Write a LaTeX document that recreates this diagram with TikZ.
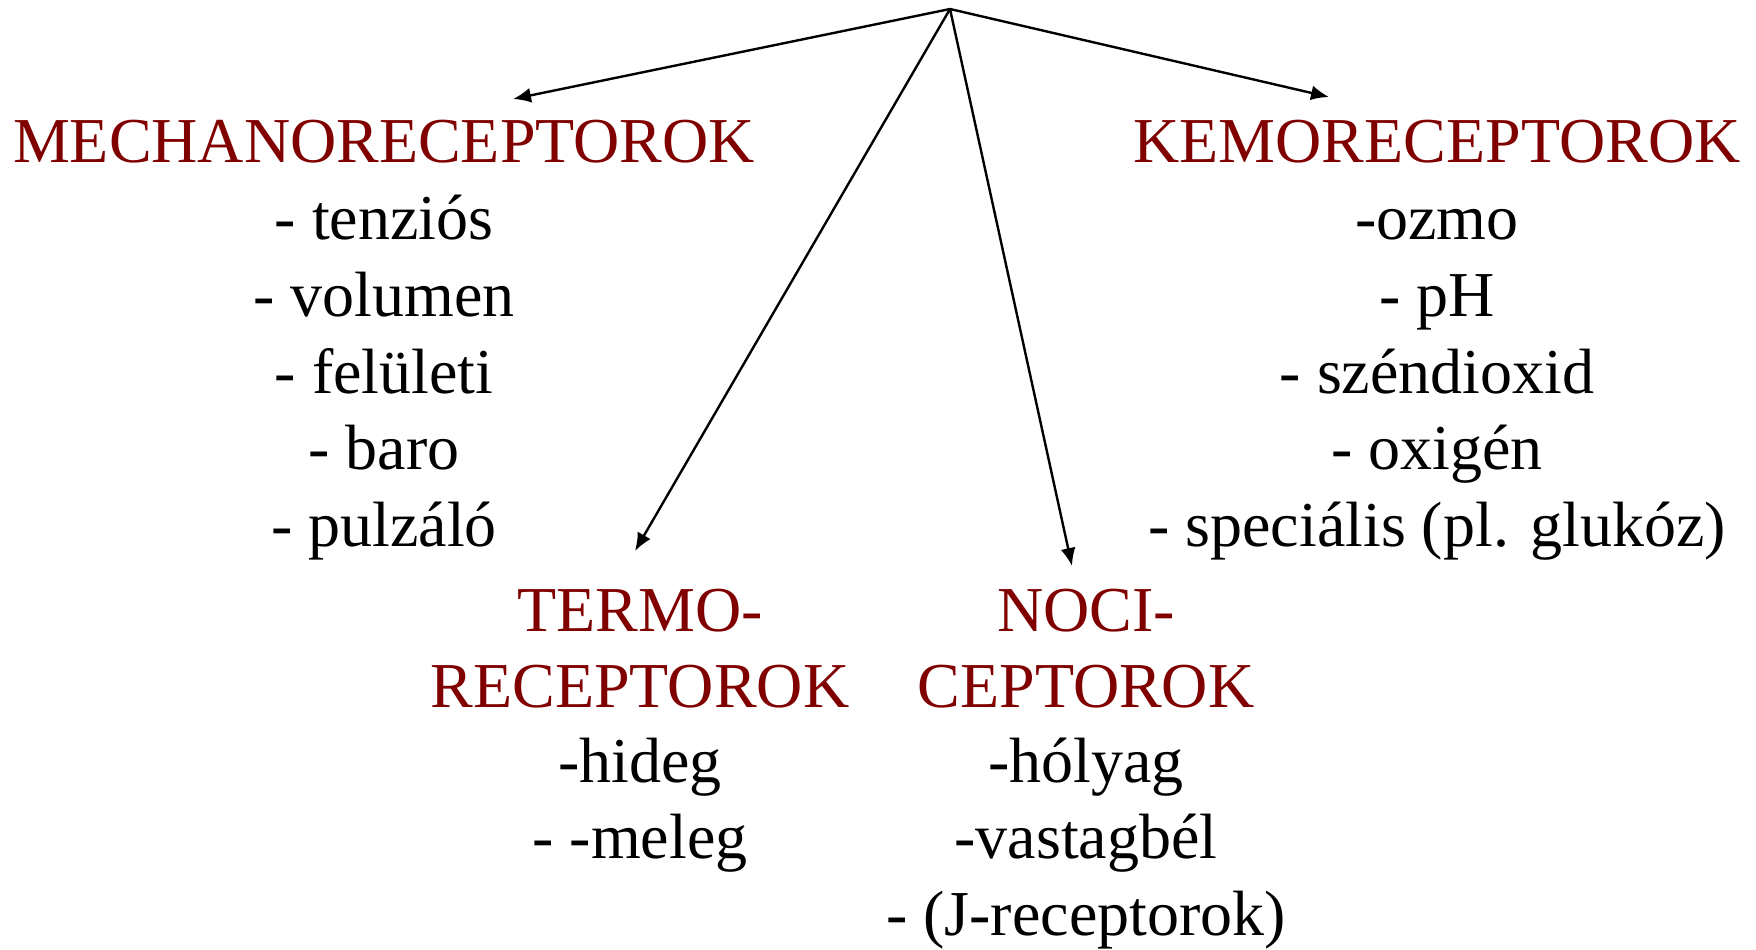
\documentclass[tikz,border=0pt]{standalone}
\usepackage{fontspec}
\setmainfont{Liberation Serif}
\usetikzlibrary{arrows.meta}
\definecolor{headred}{RGB}{128,0,0}
\begin{document}
\begin{tikzpicture}[x=0.5pt,y=-0.5pt,
  txt/.style={anchor=base,inner sep=0pt,font=\fontsize{32}{38}\selectfont},
  head/.style={txt,text=headred},
  item/.style={txt,text=black},
  conn/.style={line width=1.2pt,-{Latex[length=9pt,width=7.5pt]}}]
\useasboundingbox (0,0) rectangle (1756,949);
\coordinate (apex) at (950,9);
\coordinate (tipM) at (513,99);
\coordinate (tipK) at (1329,97);
\coordinate (tipT) at (635,551);
\coordinate (tipN) at (1072,566);
\draw[conn] (apex) -- (tipM);
\draw[conn] (apex) -- (tipK);
\draw[conn] (apex) -- (tipT);
\draw[conn] (apex) -- (tipN);
% Mechano
\node[head] (mh) at (384,162) {MECHANORECEPTOROK};
\node[item] (m1) at (384,239) {- tenziós};
\node[item] (m2) at (384,316) {- volumen};
\node[item] (m3) at (384,393) {- felületi};
\node[item] (m4) at (384,469) {- baro};
\node[item] (m5) at (384,546) {- pulzáló};
% Kemo
\node[head] (kh) at (1437,162) {KEMORECEPTOROK};
\node[item] (k1) at (1437,239) {-ozmo};
\node[item] (k2) at (1437,316) {- pH};
\node[item] (k3) at (1437,393) {- széndioxid};
\node[item] (k4) at (1437,469) {- oxigén};
\node[item] (k5) at (1437,546) {- speciális (pl. glukóz)};
% Termo
\node[head] (th1) at (640,631) {TERMO-};
\node[head] (th2) at (640,707) {RECEPTOROK};
\node[item] (t1) at (640,782) {-hideg};
\node[item] (t2) at (640,858) {- -meleg};
% Noci
\node[head] (nh1) at (1086,631) {NOCI-};
\node[head] (nh2) at (1086,707) {CEPTOROK};
\node[item] (n1) at (1086,782) {-hólyag};
\node[item] (n2) at (1086,858) {-vastagbél};
\node[item] (n3) at (1086,935) {- (J-receptorok)};
\end{tikzpicture}
\end{document}
